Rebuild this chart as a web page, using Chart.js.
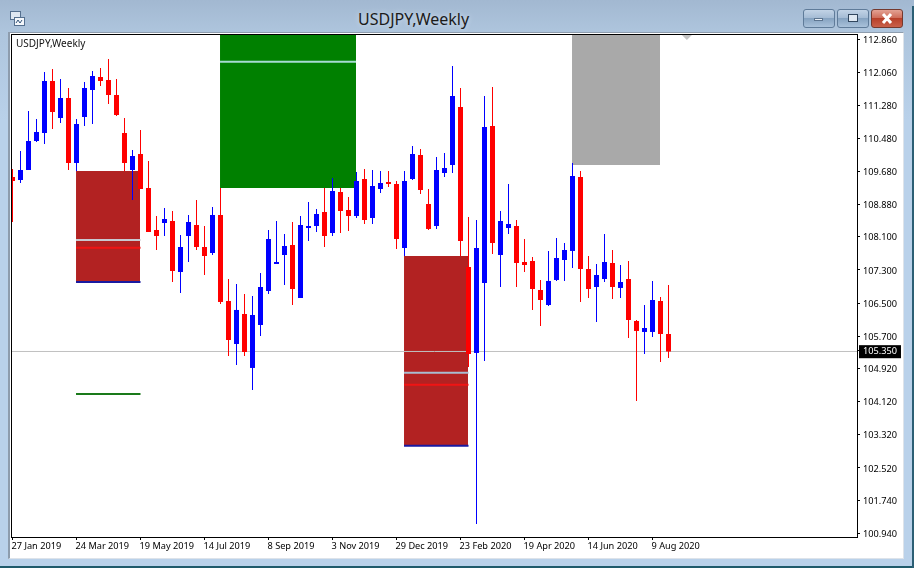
<!DOCTYPE html>
<html>
<head>
<meta charset="utf-8">
<title>USDJPY,Weekly</title>
<script src="https://cdn.jsdelivr.net/npm/chart.js@4"></script>
<style>
html, body { margin: 0; padding: 0; }
body { width: 914px; height: 568px; overflow: hidden; position: relative; font-family: "Noto Sans", sans-serif;
  background: linear-gradient(#a2b8d1 0, #aec5dd 32px, #b9d1ea 120px, #b9d1ea 100%); }
.edge-b { position: absolute; left: 0; top: 566px; width: 914px; height: 2px; background: #1f5a6b; }
.edge-r { position: absolute; left: 912px; top: 6px; width: 2px; height: 562px; background: #2c5f75; }
.client { position: absolute; left: 8px; top: 32px; width: 896px; height: 527px; background: #fff; border: 1px solid #8d9cad; border-right-color: #dde3ea; border-bottom-color: #dde3ea; box-sizing: border-box; border-left-width: 2px; }
.frame { position: absolute; left: 11px; top: 34px; width: 845px; height: 502px; border: 1px solid #000; background: #fff; }
#myChart { position: absolute; left: 0; top: 0; }
.win-title { position: absolute; left: 358px; top: 9px; font-size: 16px; line-height: 21px; color: #1b1b1b; white-space: nowrap; text-shadow: 0 0 5px #dbe6f2; }
.sym { position: absolute; left: 16px; top: 36px; font-size: 10px; line-height: 14px; color: #111; white-space: nowrap; }
.btn { position: absolute; top: 9px; height: 17px; width: 30px; border: 1px solid #5f7b99; border-radius: 3px; background: linear-gradient(#c2d3e6 0, #a5bcd5 45%, #86a3c1 50%, #a9c1da 100%); }
.btn.close { background: linear-gradient(#e3a294 0, #cf6f5c 45%, #b8402a 50%, #c9604a 100%); border-color: #74392e; }
.btn i { position: absolute; display: block; }
.icon { position: absolute; left: 10px; top: 11px; }
</style>
</head>
<body>
<div class="client"></div>
<div class="frame"></div>
<div class="edge-b"></div>
<div class="edge-r"></div>
<svg class="icon" width="15" height="15"><rect x="0.5" y="0.5" width="10" height="8" fill="#dfe8f2" stroke="#55708f"/><rect x="4.5" y="6.5" width="10" height="8" fill="#f4f7fb" stroke="#55708f"/><path d="M6 12l2-3 2 3 2-3" stroke="#33557a" fill="none"/></svg>
<div class="win-title">USDJPY,Weekly</div>
<div class="btn" style="left:803px"><i style="left:10px;top:8px;width:9px;height:3px;background:#e8eef5;border:1px solid #5d7590;box-sizing:border-box"></i></div>
<div class="btn" style="left:837px"><i style="left:10px;top:4px;width:10px;height:8px;border:1px solid #31465e;box-sizing:border-box;background:#dfe8f2"></i></div>
<div class="btn close" style="left:871px"><svg width="30" height="17" style="position:absolute;left:0;top:0"><path d="M11 4l8 9M19 4l-8 9" stroke="#fff" stroke-width="3"/></svg></div>
<canvas id="myChart" width="914" height="568"></canvas>
<div class="sym">USDJPY,Weekly</div>
<script>
// weekly candles
const opens = [109.543,109.470,109.712,110.412,110.605,111.860,110.967,111.450,109.881,110.991,111.643,111.956,111.884,111.522,110.605,109.712,110.098,109.277,108.263,108.432,108.481,107.250,108.119,108.384,107.853,107.708,108.626,106.550,105.512,106.236,104.933,105.970,106.791,107.443,107.660,107.901,106.622,108.312,108.360,108.698,108.191,109.181,108.746,108.601,109.494,108.553,109.253,109.422,109.374,107.829,109.494,110.074,108.891,108.360,109.639,109.832,111.232,107.370,105.295,106.984,110.774,107.660,108.312,108.360,107.491,107.515,106.815,106.453,107.057,107.539,107.757,109.543,107.322,106.888,107.081,107.467,106.864,107.081,106.067,105.802,105.802,106.550,105.753];
const highs = [109.736,110.170,111.136,110.943,112.077,112.150,111.908,111.691,110.943,111.836,112.101,112.174,112.391,111.908,110.967,110.194,110.677,109.929,108.601,108.795,108.722,108.143,108.626,108.988,108.360,108.819,109.277,107.081,106.960,106.719,106.670,107.226,108.263,108.481,108.167,108.457,108.601,108.939,108.770,109.277,109.519,109.277,109.060,109.663,109.736,109.712,109.688,109.688,109.446,109.688,110.291,110.219,109.253,110.025,110.122,112.222,111.691,108.577,108.505,111.498,111.715,108.722,109.374,108.505,108.046,107.612,107.057,107.757,108.070,107.950,109.881,109.688,107.636,107.443,108.167,107.781,107.419,107.515,106.091,106.453,107.033,106.646,106.936];
const lows = [108.457,109.398,109.712,110.388,110.339,110.701,110.846,109.712,109.688,110.774,110.822,111.739,111.305,111.015,109.688,108.988,109.253,108.215,107.781,108.119,107.008,106.743,107.491,107.781,107.177,107.660,106.477,105.222,105.005,105.222,104.402,105.705,106.719,107.443,106.936,106.453,106.622,107.998,108.215,107.853,108.119,108.191,108.239,108.553,108.408,108.408,109.157,109.301,107.805,107.636,109.470,109.132,108.263,108.288,109.543,109.639,107.636,104.957,101.167,105.102,107.684,106.888,108.167,106.888,107.250,106.333,105.946,106.429,107.033,107.033,107.346,106.526,106.622,106.043,107.008,106.598,106.622,105.657,104.136,105.270,105.681,105.077,105.174];
const closes = [109.446,109.712,110.412,110.629,111.860,111.112,111.450,109.881,110.822,111.691,111.981,111.860,111.522,111.039,109.881,110.050,109.253,108.215,108.119,108.529,107.274,107.853,108.457,107.853,107.636,108.626,106.526,105.608,106.333,105.319,106.212,106.888,108.046,107.491,107.877,106.839,108.384,108.360,108.650,108.119,109.205,108.722,108.601,109.446,108.505,109.326,109.398,109.374,108.046,109.446,110.098,109.229,108.288,109.712,109.760,111.498,107.998,105.270,107.829,110.750,107.950,108.481,108.408,107.467,107.419,106.839,106.574,107.033,107.588,107.781,109.567,107.322,106.839,107.177,107.491,106.888,107.008,106.091,105.826,105.898,106.574,105.753,105.330];

const dateTicks = [0, 8, 16, 24, 32, 40, 48, 56, 64, 72, 80];
const dateLabels = ['27 Jan 2019', '24 Mar 2019', '19 May 2019', '14 Jul 2019', '8 Sep 2019', '3 Nov 2019', '29 Dec 2019', '23 Feb 2020', '19 Apr 2020', '14 Jun 2020', '9 Aug 2020'];
const priceTicks = [112.86, 112.06, 111.28, 110.48, 109.68, 108.88, 108.10, 107.30, 106.50, 105.70, 105.35, 104.92, 104.12, 103.32, 102.52, 101.74, 100.94];
const currentPrice = 105.35;
const bidLevel = 105.331;

// rectangles and level lines on the chart: [from bar, to bar, price, price]
const zoneFrom = [25.94, 7.94, 48.94, 69.94];
const zoneTo = [42.94, 15.94, 56.94, 80.94];
const zoneTop = [113.5, 109.688, 107.636, 113.5];
const zoneBottom = [109.277, 107.008, 103.057, 109.832];
const zoneColors = ['#008000', '#b22222', '#b22222', '#a9a9a9'];

const levelFrom = [25.94, 7.94, 7.94, 7.94, 7.94, 48.94, 48.94, 48.94];
const levelTo = [42.94, 16, 16, 16, 16, 57, 57, 57];
const levelPrice = [112.326, 108.022, 107.836, 107.008, 104.305, 104.819, 104.529, 103.057];
const levelColors = ['#a6dcd2', '#c8c8d0', '#f01414', '#1a1aa0', '#1a7a1a', '#a8bcd0', '#f01414', '#1a1aa0'];

const markX = [84.3];
const markY = [112.97];

const upColor = '#0000ff';
const downColor = '#ff0000';

const bars = opens.map((o, i) => i);
const candleColors = opens.map((o, i) => (closes[i] >= o ? upColor : downColor));

const datasets = [];

zoneFrom.forEach((from, i) => {
    datasets.push({
        type: 'line',
        data: [{ x: from, y: zoneTop[i] }, { x: zoneTo[i], y: zoneTop[i] }],
        borderWidth: 0,
        pointRadius: 0,
        backgroundColor: zoneColors[i],
        fill: { target: { value: zoneBottom[i] } },
        order: 9
    });
});

levelFrom.forEach((from, i) => {
    datasets.push({
        type: 'line',
        data: [{ x: from, y: levelPrice[i] }, { x: levelTo[i], y: levelPrice[i] }],
        borderColor: levelColors[i],
        borderWidth: 2,
        pointRadius: 0,
        order: 8
    });
});

datasets.push({
    type: 'line',
    data: [{ x: -1, y: bidLevel }, { x: 110, y: bidLevel }],
    borderColor: '#c0c0c0',
    borderWidth: 1,
    pointRadius: 0,
    order: 7
});

datasets.push({
    type: 'scatter',
    data: markX.map((x, i) => ({ x: x, y: markY[i] })),
    pointStyle: 'rectRot',
    pointRadius: 5,
    backgroundColor: '#c4c4c4',
    borderWidth: 0,
    order: 6
});

datasets.push({
    label: 'Wicks',
    data: bars.map(i => ({ x: i, y: [lows[i], highs[i]] })),
    backgroundColor: candleColors,
    barThickness: 1,
    grouped: false,
    inflateAmount: 0,
    order: 2
});

datasets.push({
    label: 'Bodies',
    data: bars.map(i => ({ x: i, y: [opens[i], closes[i]] })),
    backgroundColor: candleColors,
    barThickness: 5,
    grouped: false,
    inflateAmount: 0,
    order: 1
});

const axisFont = { family: '"Noto Sans", sans-serif', size: 9.2 };

new Chart(document.getElementById('myChart').getContext('2d'), {
    type: 'bar',
    data: { datasets: datasets },
    options: {
        responsive: false,
        animation: false,
        events: [],
        layout: { padding: { left: 12, top: 35, right: 0, bottom: 0 } },
        plugins: { legend: { display: false }, tooltip: { enabled: false }, title: { display: false } },
        scales: {
            x: {
                type: 'linear',
                offset: false,
                min: -0.0625,
                max: 105.5625,
                border: { display: false },
                grid: { offset: false, drawOnChartArea: false, tickLength: 3, tickColor: '#000' },
                afterFit: scale => { scale.height = 31; },
                afterBuildTicks: scale => { scale.ticks = dateTicks.map(v => ({ value: v })); },
                ticks: {
                    autoSkip: false,
                    maxRotation: 0,
                    minRotation: 0,
                    align: 'start',
                    labelOffset: -1,
                    padding: 1,
                    color: '#000',
                    font: axisFont,
                    callback: value => dateLabels[dateTicks.indexOf(value)]
                }
            },
            y: {
                type: 'linear',
                position: 'right',
                min: 100.853,
                max: 112.97,
                border: { display: false },
                grid: { drawOnChartArea: false, tickLength: 3, tickColor: '#000' },
                afterFit: scale => { scale.width = 57; },
                afterBuildTicks: scale => { scale.ticks = priceTicks.map(v => ({ value: v })); },
                ticks: {
                    autoSkip: false,
                    align: 'near',
                    padding: 3,
                    labelOffset: 1,
                    font: axisFont,
                    color: ctx => (ctx.tick.value === currentPrice ? '#fff' : '#000'),
                    showLabelBackdrop: ctx => ctx.tick.value === currentPrice,
                    backdropColor: '#000',
                    backdropPadding: { left: 4, right: 4, top: 1, bottom: 1 },
                    callback: value => value.toFixed(3)
                }
            }
        }
    }
});
</script>
</body>
</html>
